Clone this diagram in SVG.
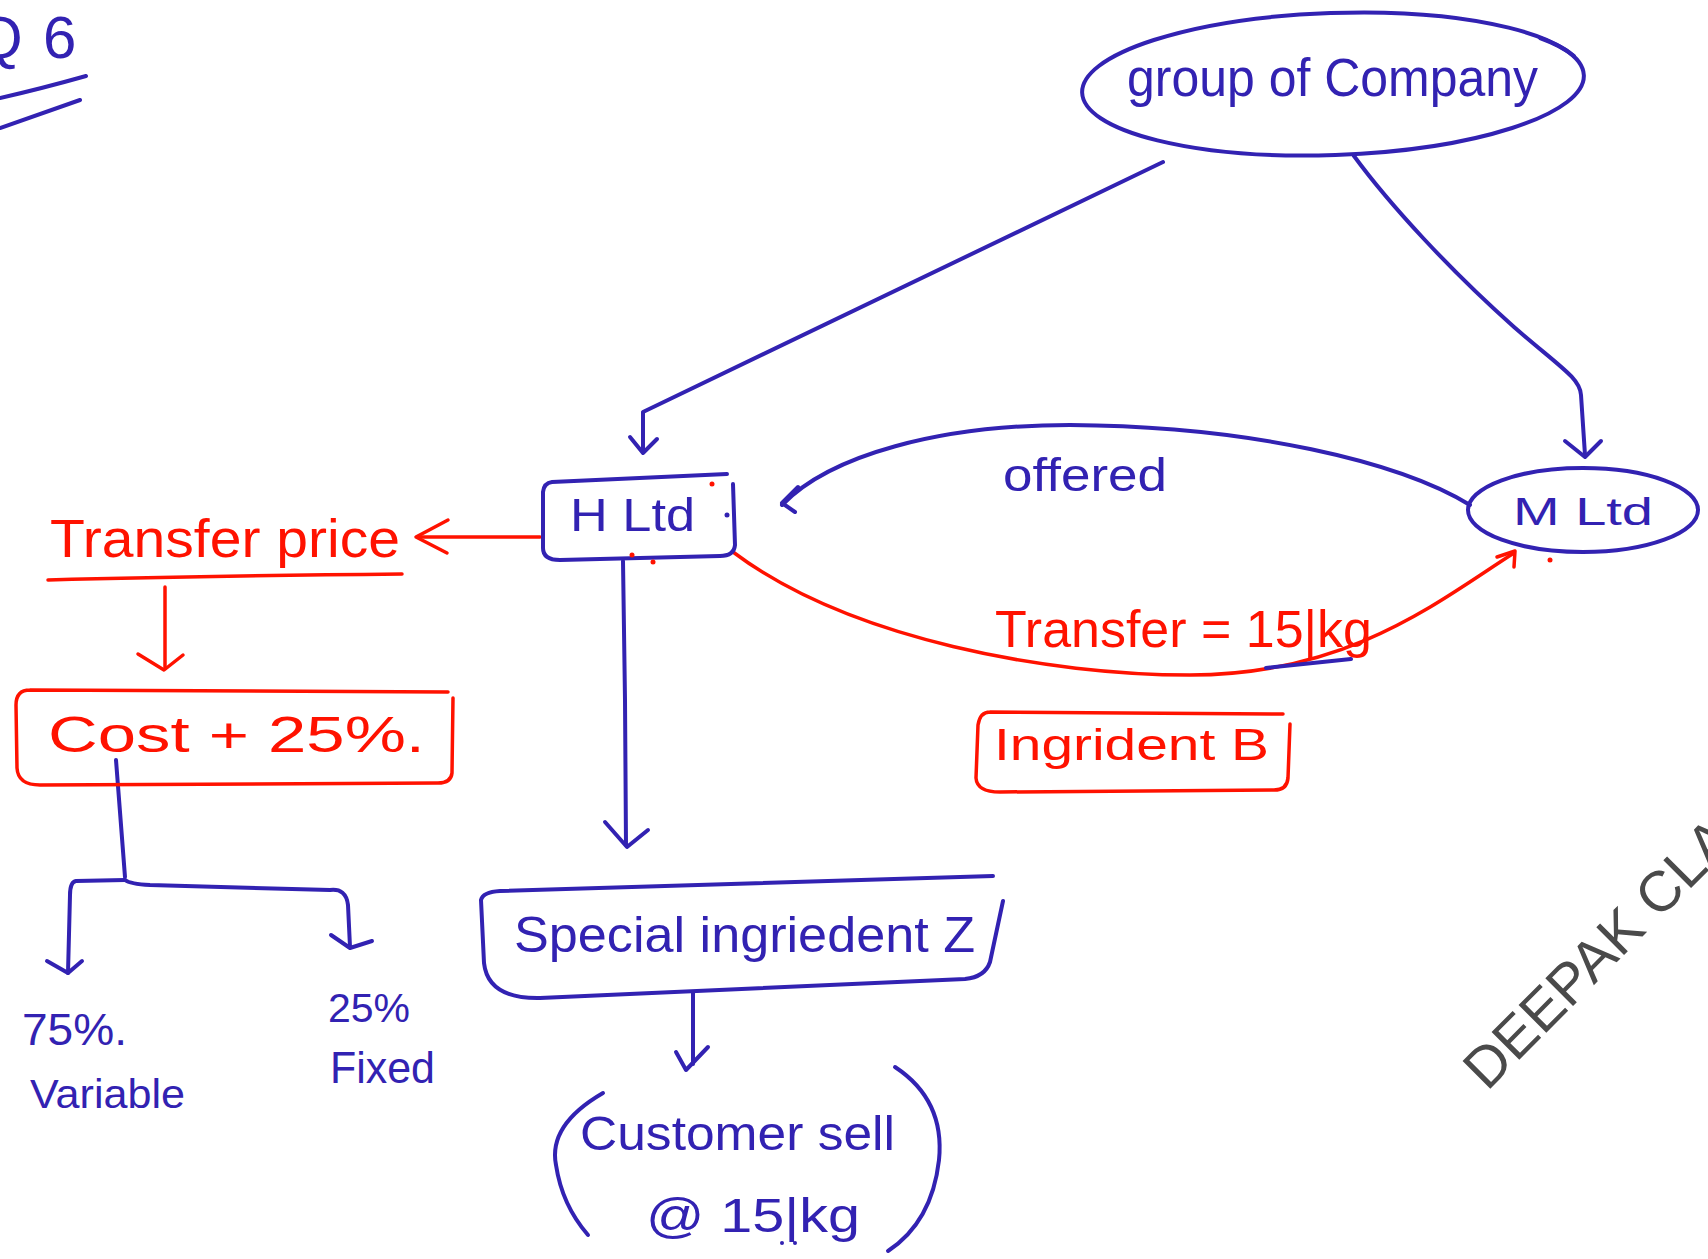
<svg xmlns="http://www.w3.org/2000/svg" width="1708" height="1259" viewBox="0 0 1708 1259">
  <style>
    .b { fill: none; stroke: #3222b2; stroke-width: 4; stroke-linecap: round; stroke-linejoin: round; }
    .r { fill: none; stroke: #ff1200; stroke-width: 3.5; stroke-linecap: round; stroke-linejoin: round; }
    .tb { fill: #3222b2; font-family: "Liberation Sans", "DejaVu Sans", sans-serif; }
    .tr { fill: #ff1200; font-family: "Liberation Sans", "DejaVu Sans", sans-serif; }
    .db { fill: #3222b2; }
    .dr { fill: #ff1200; }
    .wm { fill: #4a4a4a; font-family: "Liberation Sans", Arial, sans-serif; font-size: 57px; }
  </style>
  <rect width="1708" height="1259" fill="#ffffff"/>

  <!-- question number -->
  <g id="question-number">
    <text class="tb" x="-24" y="58" font-size="60">Q</text>
    <text class="tb" x="43" y="58" font-size="60">6</text>
    <path class="b" d="M0,98 Q40,89 86,76"/>
    <path class="b" d="M0,128 L80,100"/>
  </g>

  <!-- connectors -->
  <g id="connectors">
    <!-- group to H Ltd -->
    <path class="b" d="M1163,162 L643,412 L643,452"/>
    <path class="b" d="M630,437 L643,453 L657,439"/>
    <!-- group to M Ltd -->
    <path class="b" d="M1354,156 C1390,205 1450,270 1514,327 C1560,367 1580,378 1581,395 L1585,455"/>
    <path class="b" d="M1565,441 L1585,457 L1601,441"/>
    <!-- offered: M Ltd back to H Ltd -->
    <path class="b" d="M1470,505 C1400,462 1250,426 1070,425 C940,425 830,455 782,505"/>
    <path class="b" d="M798,487 L782,503 L795,512"/>
    <!-- transfer: H Ltd to M Ltd -->
    <path class="r" d="M733,552 C850,640 1050,675 1190,675 C1350,675 1440,600 1514,553"/>
    <path class="r" d="M1497,557 L1515,551 L1514,567"/>
    <path class="b" d="M1266,668 L1351,659" stroke-width="6"/>
    <!-- H Ltd to transfer price -->
    <path class="r" d="M540,537 L418,537"/>
    <path class="r" d="M448,520 L416,537 L447,553"/>
    <!-- transfer price to cost + 25% -->
    <path class="r" d="M165,587 L165,668"/>
    <path class="r" d="M138,654 L164,670 L183,655"/>
    <!-- cost split into variable and fixed -->
    <path class="b" d="M116,760 L125,877"/>
    <path class="b" d="M125,880 L76,881 Q70,882 70,895 L68,973"/>
    <path class="b" d="M47,961 L68,973 L82,961"/>
    <path class="b" d="M125,880 Q130,884 150,885 L330,890 Q346,888 348,905 L350,947"/>
    <path class="b" d="M331,935 L350,948 L372,941"/>
    <!-- H Ltd to special ingredient -->
    <path class="b" d="M623,561 L625,700 L626,845"/>
    <path class="b" d="M605,822 L627,847 L648,830"/>
    <!-- special ingredient to customer -->
    <path class="b" d="M693,993 L693,1064"/>
    <path class="b" d="M676,1052 L686,1070 L708,1047"/>
  </g>

  <g id="group-of-company">
    <ellipse class="b" cx="1333" cy="84" rx="251" ry="71" transform="rotate(-2 1333 84)"/>
    <path class="b" d="M1540,38 Q1562,46 1574,56"/>
    <text class="tb" x="1127" y="96" font-size="54" textLength="411" lengthAdjust="spacingAndGlyphs">group of Company</text>
  </g>

  <g id="h-ltd">
    <path class="b" d="M552,482 L727,474 M733,484 L735,545 Q734,556 720,556 L560,560 Q543,560 543,548 L543,492 Q544,483 552,482"/>
    <text class="tb" x="570" y="531" font-size="46" textLength="125" lengthAdjust="spacingAndGlyphs">H Ltd</text>
    <circle class="db" cx="727" cy="515" r="2.5"/>
    <circle class="dr" cx="712" cy="484" r="2.5"/>
    <circle class="dr" cx="632" cy="555" r="2.5"/>
    <circle class="dr" cx="653" cy="562" r="2.5"/>
  </g>

  <g id="m-ltd">
    <ellipse class="b" cx="1583" cy="510" rx="115" ry="42"/>
    <text class="tb" x="1513" y="525" font-size="38" textLength="140" lengthAdjust="spacingAndGlyphs">M Ltd</text>
    <circle class="dr" cx="1550" cy="560" r="2.5"/>
  </g>

  <g id="offered-label">
    <text class="tb" x="1003" y="491" font-size="46" textLength="164" lengthAdjust="spacingAndGlyphs">offered</text>
  </g>

  <g id="transfer-label">
    <text class="tr" x="995" y="647" font-size="52" textLength="377" lengthAdjust="spacingAndGlyphs">Transfer  =  15|kg</text>
  </g>

  <g id="ingredient-b">
    <path class="r" d="M990,712 L1283,714 M1290,724 L1288,778 Q1287,790 1274,790 L1000,792 Q977,792 976,778 L978,725 Q980,712 990,712"/>
    <text class="tr" x="994" y="760" font-size="44" textLength="275" lengthAdjust="spacingAndGlyphs">Ingrident B</text>
  </g>

  <g id="transfer-price">
    <text class="tr" x="50" y="557" font-size="54" textLength="350" lengthAdjust="spacingAndGlyphs">Transfer price</text>
    <path class="r" d="M48,580 Q200,576 402,574"/>
  </g>

  <g id="cost-plus">
    <path class="r" d="M30,690 L448,692 M453,698 L452,773 Q451,783 438,783 L40,785 Q18,785 17,768 L16,705 Q16,690 30,690"/>
    <text class="tr" x="48" y="752" font-size="50" textLength="377" lengthAdjust="spacingAndGlyphs">Cost  +  25%.</text>
  </g>

  <g id="variable">
    <text class="tb" x="22" y="1045" font-size="44" textLength="105" lengthAdjust="spacingAndGlyphs">75%.</text>
    <text class="tb" x="30" y="1108" font-size="40" textLength="155" lengthAdjust="spacingAndGlyphs">Variable</text>
  </g>

  <g id="fixed">
    <text class="tb" x="328" y="1022" font-size="40" textLength="82" lengthAdjust="spacingAndGlyphs">25%</text>
    <text class="tb" x="330" y="1083" font-size="44" textLength="105" lengthAdjust="spacingAndGlyphs">Fixed</text>
  </g>

  <g id="special-ingredient">
    <path class="b" d="M481,900 Q483,892 500,891 L993,876 M1003,901 L990,962 Q985,977 965,979 L540,998 Q488,999 484,963 L481,900"/>
    <text class="tb" x="514" y="952" font-size="50" textLength="461" lengthAdjust="spacingAndGlyphs">Special ingriedent Z</text>
  </g>

  <g id="customer-sell">
    <path class="b" d="M603,1093 Q548,1125 556,1165 Q562,1205 588,1235"/>
    <path class="b" d="M895,1067 Q945,1100 939,1160 Q932,1222 888,1251"/>
    <text class="tb" x="580" y="1150" font-size="48" textLength="315" lengthAdjust="spacingAndGlyphs">Customer sell</text>
    <text class="tb" x="646" y="1232" font-size="48" textLength="214" lengthAdjust="spacingAndGlyphs">@ 15|kg</text>
    <circle class="db" cx="782" cy="1243" r="2"/>
    <circle class="db" cx="795" cy="1243" r="2"/>
  </g>

  <!-- watermark -->
  <text class="wm" transform="translate(1487,1092) rotate(-45)">DEEPAK CLA</text>
</svg>
